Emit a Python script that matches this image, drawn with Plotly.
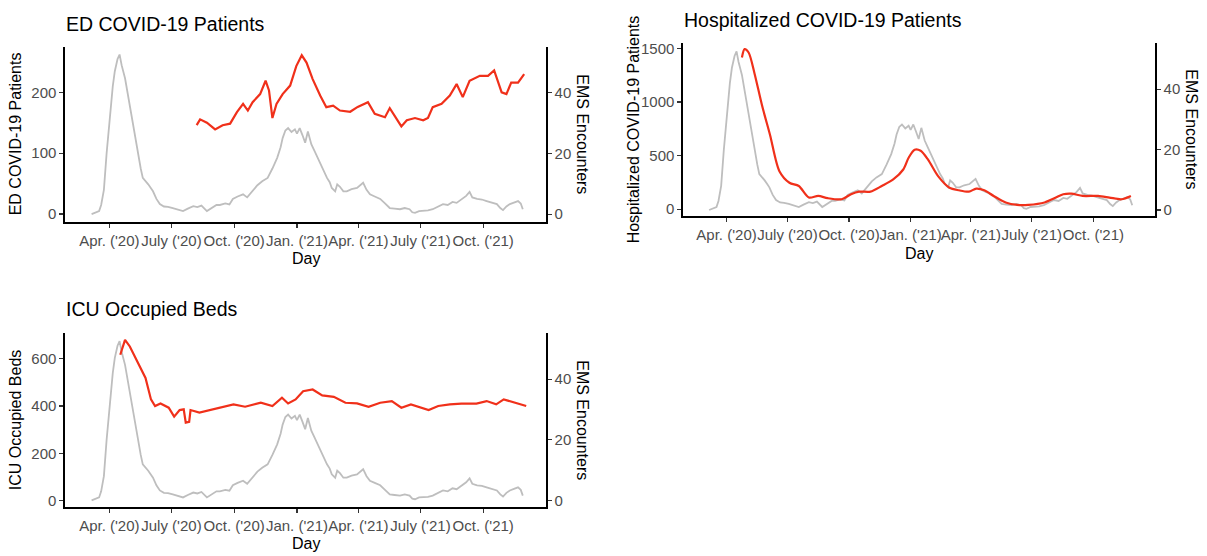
import plotly.graph_objects as go

W, H = 1207, 556

# ---------------- data ----------------
ems_dates = [
    "2020-03-06", "2020-03-12", "2020-03-17", "2020-03-20", "2020-03-24", "2020-03-28",
    "2020-04-02", "2020-04-06", "2020-04-09", "2020-04-13", "2020-04-16", "2020-04-19",
    "2020-04-24", "2020-04-29", "2020-05-04", "2020-05-09", "2020-05-13", "2020-05-17",
    "2020-05-20", "2020-05-24", "2020-05-28", "2020-06-01", "2020-06-04", "2020-06-09",
    "2020-06-14", "2020-06-20", "2020-06-26", "2020-07-03", "2020-07-10", "2020-07-18",
    "2020-07-25", "2020-08-02", "2020-08-08", "2020-08-14", "2020-08-22", "2020-08-29",
    "2020-09-05", "2020-09-10", "2020-09-18", "2020-09-24", "2020-09-29", "2020-10-06",
    "2020-10-14", "2020-10-20", "2020-10-28", "2020-11-04", "2020-11-11", "2020-11-15",
    "2020-11-19", "2020-11-26", "2020-12-03", "2020-12-08", "2020-12-11", "2020-12-15",
    "2020-12-19", "2020-12-24", "2020-12-29", "2021-01-01", "2021-01-05", "2021-01-09",
    "2021-01-13", "2021-01-17", "2021-01-22", "2021-01-27", "2021-02-02", "2021-02-07",
    "2021-02-10", "2021-02-14", "2021-02-18", "2021-02-21", "2021-02-26", "2021-03-01",
    "2021-03-05", "2021-03-10", "2021-03-15", "2021-03-22", "2021-03-30", "2021-04-04",
    "2021-04-08", "2021-04-13", "2021-04-18", "2021-04-25", "2021-05-03", "2021-05-10",
    "2021-05-17", "2021-05-24", "2021-06-01", "2021-06-08", "2021-06-15", "2021-06-19",
    "2021-06-23", "2021-06-29", "2021-07-05", "2021-07-12", "2021-07-19", "2021-07-26",
    "2021-08-03", "2021-08-10", "2021-08-17", "2021-08-23", "2021-08-28", "2021-09-01",
    "2021-09-06", "2021-09-11", "2021-09-15", "2021-09-22", "2021-09-29", "2021-10-06",
    "2021-10-13", "2021-10-21", "2021-10-26", "2021-10-30", "2021-11-04", "2021-11-09",
    "2021-11-15", "2021-11-21", "2021-11-25", "2021-11-28",
]
ems_vals = [
    0, 0.5, 1, 3, 8, 20,
    33, 42, 47, 51, 52.5, 49,
    44.7, 38, 31.6, 25, 20.6, 15,
    11.9, 11, 9.8, 8.5, 7.5, 5,
    3.3, 2.5, 2.4, 2, 1.5, 1,
    1.8, 2.6, 2.3, 2.8, 1, 2,
    3, 3, 3.5, 3.2, 5, 5.8,
    6.5, 5.5, 7.5, 9.5, 10.8, 11.5,
    11.9, 15, 18.5, 22, 25, 27.5,
    28.3, 27, 27.9, 26.5, 28.3, 26,
    23.5, 27.2, 23, 20.6, 17.5, 15.2,
    13.5, 11.9, 10.5, 8.6, 7.5, 9.8,
    9, 7.5, 7.5, 8.2, 8.6, 9.5,
    10.3, 8, 6.5, 5.8, 5, 3.5,
    2, 1.8, 1.6, 2, 1.6, 0.6,
    0.4, 1, 1, 1.2, 1.6, 2.5,
    3.3, 3, 4, 3.7, 4.5, 5.3,
    6, 7.3, 5.5, 5, 4.8, 4.3,
    3.8, 3.3, 2, 1.3, 2.5, 3.3,
    3.8, 4.3, 3.5, 1.6,
]

ed_dates = [
    "2020-08-07", "2020-08-12", "2020-08-22", "2020-09-03", "2020-09-14", "2020-09-25",
    "2020-10-05", "2020-10-14", "2020-10-21", "2020-10-28", "2020-11-08", "2020-11-16",
    "2020-11-21", "2020-11-26", "2020-12-02", "2020-12-11", "2020-12-22", "2020-12-31",
    "2021-01-08", "2021-01-15", "2021-01-24", "2021-02-04", "2021-02-13", "2021-02-23",
    "2021-03-05", "2021-03-20", "2021-03-31", "2021-04-15", "2021-04-25", "2021-05-10",
    "2021-05-17", "2021-05-27", "2021-06-03", "2021-06-11", "2021-06-23", "2021-07-05",
    "2021-07-12", "2021-07-19", "2021-08-01", "2021-08-13", "2021-08-23", "2021-09-01",
    "2021-09-11", "2021-09-26", "2021-10-08", "2021-10-17", "2021-10-28", "2021-11-04",
    "2021-11-11", "2021-11-21", "2021-11-30",
]
ed_vals = [
    146, 155.6, 150, 139, 146, 148.5,
    167.5, 181, 170, 183.7, 197, 219,
    203, 157.7, 181, 197, 211, 243,
    260.7, 248.8, 221.6, 194.6, 175.6, 178,
    170, 168, 176, 183.7, 164.7, 159,
    174, 156.6, 144, 154, 157.7, 154,
    157.7, 175.6, 181, 194.6, 213.5, 192,
    219, 227, 227, 236, 200, 197,
    216, 216, 229.7,
]

hosp_dates = [
    "2020-04-24", "2020-04-28", "2020-05-04", "2020-05-13", "2020-05-24", "2020-06-05",
    "2020-06-19", "2020-07-04", "2020-07-18", "2020-08-02", "2020-08-16", "2020-08-30",
    "2020-09-20", "2020-10-04", "2020-10-16", "2020-11-02", "2020-11-19", "2020-12-06",
    "2020-12-21", "2020-12-29", "2021-01-07", "2021-01-16", "2021-01-27", "2021-02-11",
    "2021-02-28", "2021-03-14", "2021-03-29", "2021-04-09", "2021-04-21", "2021-05-05",
    "2021-05-23", "2021-06-09", "2021-06-26", "2021-07-20", "2021-08-06", "2021-08-17",
    "2021-08-29", "2021-09-15", "2021-10-08", "2021-10-25", "2021-11-12", "2021-11-26",
]
hosp_vals = [
    1417, 1494, 1463, 1263, 970, 693,
    354, 246, 216, 108, 123, 102,
    92, 139, 163, 163, 216, 277,
    370, 480, 555, 545, 462, 308,
    200, 176, 163, 191, 176, 123,
    62, 40, 40, 62, 108, 139,
    145, 123, 123, 108, 92, 123,
]

icu_dates = [
    "2020-04-17", "2020-04-24", "2020-05-01", "2020-05-12", "2020-05-24", "2020-06-01",
    "2020-06-07", "2020-06-15", "2020-06-27", "2020-07-05", "2020-07-13", "2020-07-19",
    "2020-07-22", "2020-07-27", "2020-07-29", "2020-08-11", "2020-08-28", "2020-09-14",
    "2020-09-30", "2020-10-17", "2020-11-09", "2020-11-26", "2020-12-10", "2020-12-19",
    "2020-12-30", "2021-01-10", "2021-01-24", "2021-02-07", "2021-02-24", "2021-03-13",
    "2021-03-30", "2021-04-16", "2021-05-03", "2021-05-20", "2021-06-03", "2021-06-17",
    "2021-07-04", "2021-07-13", "2021-07-27", "2021-08-13", "2021-08-30", "2021-09-21",
    "2021-10-06", "2021-10-20", "2021-10-31", "2021-11-17", "2021-12-03",
]
icu_vals = [
    617, 680, 652, 589, 519, 428,
    400, 411, 393, 355, 383, 386,
    330, 333, 383, 372, 383, 397,
    407, 397, 414, 400, 435, 411,
    428, 463, 470, 445, 439, 414,
    411, 397, 414, 421, 393, 407,
    393, 383, 400, 407, 410, 410,
    421, 407, 428, 414, 400,
]

tick_vals = ["2020-04-01", "2020-07-01", "2020-10-01", "2021-01-01",
             "2021-04-01", "2021-07-01", "2021-10-01"]
tick_text = ["Apr. ('20)", "July ('20)", "Oct. ('20)", "Jan. ('21)",
             "Apr. ('21)", "July ('21)", "Oct. ('21)"]
x_range = ["2020-01-27", "2022-01-01"]

# ---------------- styling ----------------
FONT = "Liberation Sans, Arial, Helvetica, sans-serif"
GREY = "#BEBEBE"
RED = "#F0301A"
TICKC = "#4D4D4D"
TICKSIZE = 15


def fx(p):
    return p / W


def fy(p):
    return 1 - p / H


panels = [
    dict(title="ED COVID-19 Patients", ylab="ED COVID-19 Patients",
         dates=ed_dates, vals=ed_vals, shape="linear",
         left_ticks=[0, 100, 200], left_range=[-13, 275],
         px=(65, 546), py=(44, 221), right_range=[-2.6, 55.1],
         title_pos=(66, 21), ylab_x=15, rlab_x=583, day_y=258),
    dict(title="Hospitalized COVID-19 Patients", ylab="Hospitalized COVID-19 Patients",
         dates=hosp_dates, vals=hosp_vals, shape="spline",
         left_ticks=[0, 500, 1000, 1500], left_range=[-65, 1555],
         px=(683, 1155), py=(40, 215), right_range=[-2.0, 55.4],
         title_pos=(684, 17), ylab_x=633, rlab_x=1192, day_y=253),
    dict(title="ICU Occupied Beds", ylab="ICU Occupied Beds",
         dates=icu_dates, vals=icu_vals, shape="linear",
         left_ticks=[0, 200, 400, 600], left_range=[-29, 709],
         px=(65, 546), py=(333, 509), right_range=[-2.3, 55.2],
         title_pos=(66, 309), ylab_x=15, rlab_x=583, day_y=545),
]

fig = go.Figure()
layout = dict(
    width=W, height=H, margin=dict(l=0, r=0, t=0, b=0),
    paper_bgcolor="white", plot_bgcolor="white", showlegend=False,
    font=dict(family=FONT, color="black"),
)
annotations = []

for i, p in enumerate(panels):
    xn = i + 1
    yb = 2 * i + 1      # base axis (right side, EMS)
    yo = 2 * i + 2      # overlay axis (left side, patients)
    xname = "x" if xn == 1 else f"x{xn}"
    ybname = "y" if yb == 1 else f"y{yb}"
    yoname = f"y{yo}"

    xdom = [fx(p["px"][0]), fx(p["px"][1])]
    ydom = [fy(p["py"][1]), fy(p["py"][0])]

    fig.add_trace(go.Scatter(x=ems_dates, y=ems_vals, mode="lines",
                             line=dict(color=GREY, width=1.8),
                             xaxis=xname, yaxis=ybname, hoverinfo="skip"))
    fig.add_trace(go.Scatter(x=p["dates"], y=p["vals"], mode="lines",
                             line=dict(color=RED, width=2.2, shape=p["shape"],
                                       smoothing=0.8),
                             xaxis=xname, yaxis=yoname, hoverinfo="skip"))

    xkey = "xaxis" if xn == 1 else f"xaxis{xn}"
    ybkey = "yaxis" if yb == 1 else f"yaxis{yb}"
    yokey = f"yaxis{yo}"

    common = dict(showgrid=False, zeroline=False, showline=True, linecolor="black",
                  linewidth=1.6, ticks="outside", ticklen=4, tickwidth=1.2,
                  tickcolor="#333333",
                  tickfont=dict(size=TICKSIZE, color=TICKC, family=FONT))

    layout[xkey] = dict(
        domain=xdom, anchor=ybname, type="date", range=x_range,
        tickmode="array", tickvals=tick_vals, ticktext=tick_text, tickangle=0,
        **common,
    )
    layout[ybkey] = dict(
        domain=ydom, anchor=xname, side="right", range=p["right_range"],
        tickmode="array", tickvals=[0, 20, 40], **common,
    )
    layout[yokey] = dict(
        overlaying=ybname, anchor=xname, side="left", range=p["left_range"],
        tickmode="array", tickvals=p["left_ticks"], **common,
    )

    cy = (p["py"][0] + p["py"][1]) / 2
    cx = (p["px"][0] + p["px"][1]) / 2
    annotations += [
        dict(text=p["title"], x=fx(p["title_pos"][0] - 2), y=fy(p["title_pos"][1]),
             xref="paper", yref="paper", xanchor="left", yanchor="middle",
             showarrow=False, font=dict(size=19.5, color="black", family=FONT)),
        dict(text=p["ylab"], x=fx(p["ylab_x"]), y=fy(cy), textangle=-90,
             xref="paper", yref="paper", xanchor="center", yanchor="middle",
             showarrow=False, font=dict(size=16, color="black", family=FONT)),
        dict(text="EMS Encounters", x=fx(p["rlab_x"]), y=fy(cy), textangle=90,
             xref="paper", yref="paper", xanchor="center", yanchor="middle",
             showarrow=False, font=dict(size=16, color="black", family=FONT)),
        dict(text="Day", x=fx(cx), y=fy(p["day_y"]),
             xref="paper", yref="paper", xanchor="center", yanchor="middle",
             showarrow=False, font=dict(size=16, color="black", family=FONT)),
    ]

layout["annotations"] = annotations
fig.update_layout(**layout)
fig.write_html("out.html",
               config={"displayModeBar": False, "staticPlot": True},
               post_script="document.body.style.margin='0px';"
                           "document.body.style.overflow='hidden';")
